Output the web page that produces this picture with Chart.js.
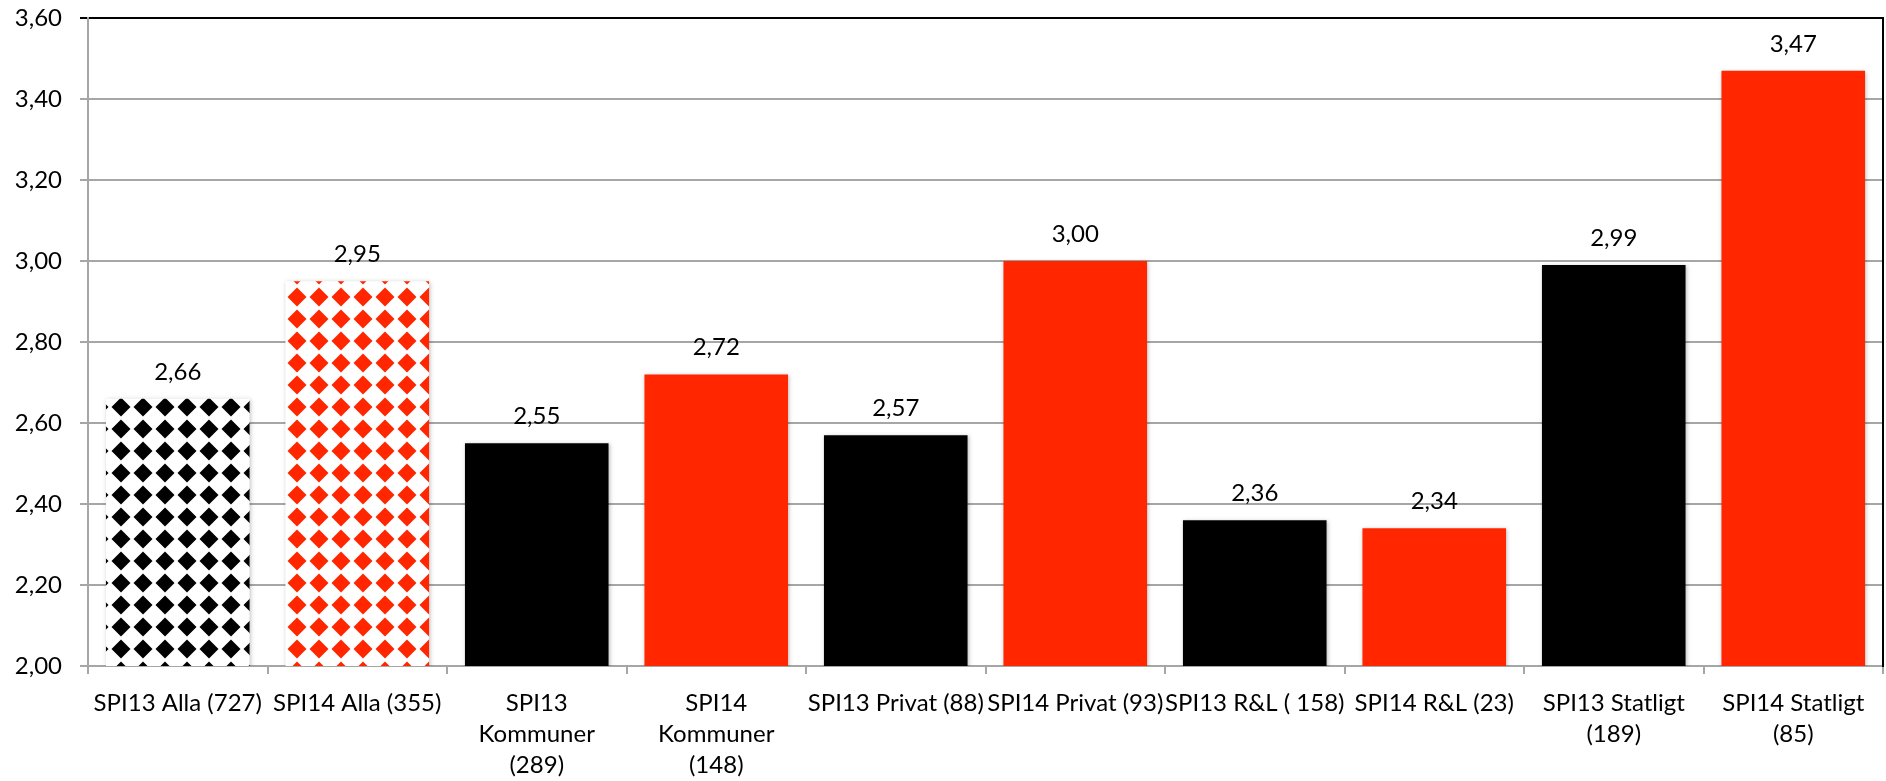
<!DOCTYPE html>
<html>
<head>
<meta charset="utf-8">
<script src="https://cdn.jsdelivr.net/npm/chart.js@4.4.1/dist/chart.umd.min.js"></script>
<style>
    html, body { margin: 0; padding: 0; background: #fff; }
    #wrap { width: 1886px; height: 781px; }
</style>
</head>
<body>
<div id="wrap"><canvas id="spiChart"></canvas></div>
<script>
const categories = [
    "SPI13 Alla (727)",
    "SPI14 Alla (355)",
    ["SPI13", "Kommuner", "(289)"],
    ["SPI14", "Kommuner", "(148)"],
    "SPI13 Privat (88)",
    "SPI14 Privat (93)",
    "SPI13 R&L ( 158)",
    "SPI14 R&L (23)",
    ["SPI13 Statligt", "(189)"],
    ["SPI14 Statligt", "(85)"],
];
const values = [2.66, 2.95, 2.55, 2.72, 2.57, 3.0, 2.36, 2.34, 2.99, 3.47];
// 13 = svart, 14 = röd, de två första med rutmönster
const barKinds = ["p13", "p14", "s13", "s14", "s13", "s14", "s13", "s14", "s13", "s14"];
const yMin = 2.0;
const yMax = 3.6;
const yStep = 0.2;

const CONFIG = {
    black: "#000000",
    red: "#ff2600",
    grid: "#a6a6a6",
    font: "Lato, 'Open Sans', sans-serif",
    fontSize: 24,
    charts: {},
};

function fmt(v) {
    return Number(v).toFixed(2).replace(".", ",");
}

function diamondPattern(color) {
    const tile = document.createElement("canvas");
    tile.width = 22;
    tile.height = 22;
    const c = tile.getContext("2d");
    c.fillStyle = "#ffffff";
    c.fillRect(0, 0, 22, 22);
    c.fillStyle = color;
    c.beginPath();
    c.moveTo(11, 1.5);
    c.lineTo(20.5, 11);
    c.lineTo(11, 20.5);
    c.lineTo(1.5, 11);
    c.closePath();
    c.fill();
    return document.getElementById("spiChart").getContext("2d").createPattern(tile, "repeat");
}

const valueLabels = {
    id: "valueLabels",
    afterDatasetsDraw(chart) {
        const ctx = chart.ctx;
        const meta = chart.getDatasetMeta(0);
        ctx.save();
        ctx.font = CONFIG.fontSize + "px " + CONFIG.font;
        ctx.fillStyle = "#000";
        ctx.textAlign = "center";
        ctx.textBaseline = "alphabetic";
        meta.data.forEach((bar, i) => {
            ctx.fillText(fmt(values[i]), bar.x, bar.y - 19);
        });
        ctx.restore();
    },
};

const barShadow = {
    id: "barShadow",
    beforeDatasetDraw(chart) {
        const ctx = chart.ctx;
        ctx.save();
        ctx.shadowColor = "rgba(0,0,0,0.25)";
        ctx.shadowBlur = 4;
        ctx.shadowOffsetX = 1;
        ctx.shadowOffsetY = 1;
    },
    afterDatasetDraw(chart) {
        chart.ctx.restore();
    },
};

function createChart() {
    const ctx = document.getElementById("spiChart");
    const patterns = {
        p13: diamondPattern(CONFIG.black),
        p14: diamondPattern(CONFIG.red),
        s13: CONFIG.black,
        s14: CONFIG.red,
    };

    Chart.defaults.font.family = CONFIG.font;
    Chart.defaults.color = "#000";

    CONFIG.charts.spi = new Chart(ctx, {
        type: "bar",
        data: {
            labels: categories,
            datasets: [
                {
                    data: values,
                    backgroundColor: barKinds.map((k) => patterns[k]),
                    borderWidth: 0,
                    barPercentage: 0.8,
                    categoryPercentage: 1.0,
                },
            ],
        },
        options: {
            responsive: true,
            maintainAspectRatio: false,
            animation: false,
            layout: {
                padding: { top: 18, right: 3, left: 0, bottom: 0 },
            },
            plugins: {
                legend: { display: false },
                tooltip: { enabled: false },
            },
            scales: {
                x: {
                    offset: true,
                    grid: {
                        offset: true,
                        drawOnChartArea: false,
                        color: CONFIG.grid,
                        lineWidth: 2,
                        tickLength: 8,
                    },
                    border: { color: CONFIG.grid, width: 2 },
                    ticks: {
                        autoSkip: false,
                        maxRotation: 0,
                        minRotation: 0,
                        padding: 14,
                        font: { size: CONFIG.fontSize, lineHeight: 1.28 },
                    },
                    afterFit(scale) {
                        scale.height = 115;
                        scale.paddingLeft = 0;
                        scale.paddingRight = 0;
                    },
                },
                y: {
                    min: yMin,
                    max: yMax,
                    grid: {
                        color: (c) => (c.tick && c.tick.value >= yMax - 0.001 ? CONFIG.black : CONFIG.grid),
                        lineWidth: 2,
                        tickLength: 8,
                    },
                    border: { color: CONFIG.grid, width: 2 },
                    ticks: {
                        stepSize: yStep,
                        padding: 18,
                        font: { size: CONFIG.fontSize },
                        callback: (v) => fmt(v),
                    },
                    afterFit(scale) {
                        scale.width = 88;
                        scale.paddingTop = 0;
                        scale.paddingBottom = 0;
                    },
                },
                y2: {
                    position: "right",
                    min: yMin,
                    max: yMax,
                    grid: { display: false, drawTicks: false },
                    border: { color: CONFIG.black, width: 2 },
                    ticks: { display: false },
                    afterFit(scale) {
                        scale.width = 0;
                        scale.paddingTop = 0;
                        scale.paddingBottom = 0;
                    },
                },
            },
        },
        plugins: [barShadow, valueLabels],
    });
}

createChart();
</script>
</body>
</html>
